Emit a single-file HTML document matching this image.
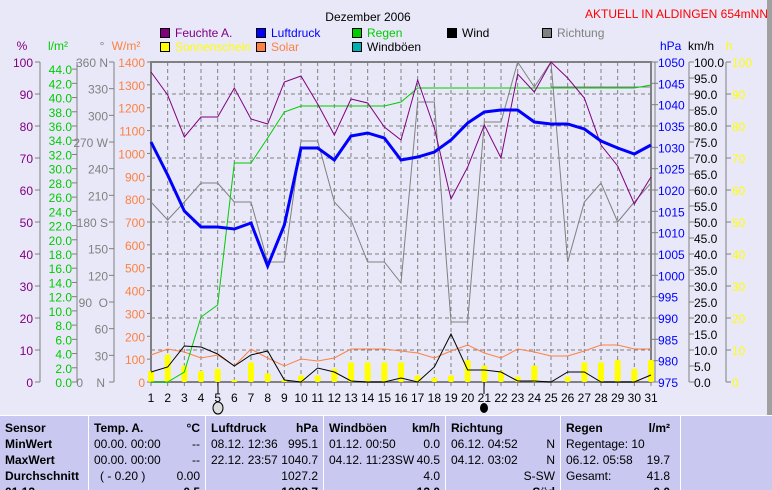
<!DOCTYPE html>
<html><head><meta charset="utf-8">
<style>
html,body{margin:0;padding:0;background:#e8e8f8;}
body{width:772px;height:490px;overflow:hidden;position:relative;font-family:"Liberation Sans",sans-serif;}
svg{position:absolute;left:0;top:0;}
text{font-family:"Liberation Sans",sans-serif;font-size:12px;}
</style></head><body>
<svg id="s" width="772" height="490" xmlns="http://www.w3.org/2000/svg"></svg>
<script>
const S=document.getElementById('s');let h='';
const X=d=>151+(d-1)*500/30;
function T(x,y,t,c,a,w,sz){h+=`<text x="${x}" y="${y}" fill="${c}" text-anchor="${a||'start'}" font-weight="${w||'normal'}" font-size="${sz||12}">${t}</text>`;}
function L(x1,y1,x2,y2,c,w,da){h+=`<line x1="${x1}" y1="${y1}" x2="${x2}" y2="${y2}" stroke="${c}" stroke-width="${w||1}" ${da?`stroke-dasharray="${da}"`:''}/>`;}
T(368,21,'Dezember 2006','#000','middle','normal',15);
T(768,18,'AKTUELL IN ALDINGEN 654mNN','#f00','end');
const lg=[[160,37,'#800080','Feuchte A.','#800080'],[256,37,'#0000ff','Luftdruck','#0000ff'],[352,37,'#00cc00','Regen','#00cc00'],[447,37,'#000','Wind','#000'],[542,37,'#808080','Richtung','#808080'],
[160,51,'#ffff00','Sonnenschein','#ffff00'],[256,51,'#ff8040','Solar','#ff8040'],[352,51,'#00b0b0','Windböen','#000']];
lg.forEach(g=>{h+=`<rect x="${g[0]}.5" y="${g[1]-9}.5" width="9" height="9" fill="${g[2]}" stroke="#000"/>`;T(g[0]+15,g[1],g[3],g[4]);});
for(let d=1;d<=31;d++){L(X(d),62,X(d),382,'#808080',1,'4,3');}
for(let i=1;i<10;i++){L(151,62+i*32,651,62+i*32,'#808080',1,'4,3');}
h+=`<rect x="151" y="62" width="500" height="320" fill="none" stroke="#808080" stroke-width="2"/>`;
T(22,50,'%','#800080','middle');T(58,50,'l/m²','#00cc00','middle');T(102,50,'°','#808080','middle');T(126,50,'W/m²','#ff8040','middle');
L(40,62,40,382,'#808080');for(let i=0;i<=10;i++){let y=382-i*32;L(35,y,40,y,'#808080');T(33,y+5,i*10,'#800080','end');}
L(77,62,77,382,'#808080');for(let i=0;i<=22;i++){let y=382-i*2*320/45;L(72,y,77,y,'#808080');T(72,y+5,(i*2).toFixed(1),'#00cc00','end');}
L(114,62,114,382,'#808080');const dl=['0 &#160;&#160;&#160;N','30','60','90 &#160;O','120','150','180 S','210','240','270 W','300','330','360 N'];
for(let i=0;i<=12;i++){let y=382-i*320/12;L(109,y,114,y,'#808080');T(i==0?105:108,y+5,dl[i],'#808080','end');}
for(let i=0;i<=14;i++){let y=382-i*320/14;L(147,y,151,y,'#808080');T(145,y+5,i*100,'#ff8040','end');}
T(660,50,'hPa','#0000ff','start');T(688,50,'km/h','#000','start');T(726,50,'h','#ffff00','start');
L(655,62,655,382,'#808080');for(let i=0;i<=15;i++){let y=382-i*320/15;L(651,y,658,y,'#808080');T(658,y+5,975+i*5,'#0000ff');}
L(689,62,689,382,'#808080');for(let i=0;i<=20;i++){let y=382-i*16;L(689,y,694,y,'#808080');T(694,y+5,(i*5).toFixed(1),'#000');}
L(726,62,726,382,'#808080');for(let i=0;i<=10;i++){let y=382-i*32;L(726,y,731,y,'#808080');T(732,y+5,i*10,'#ffff00');}
for(let d=1;d<=31;d++){L(X(d),382,X(d),386,'#808080');T(X(d),402,d,'#000','middle');}
L(218,382,218,394,'#000');L(484,382,484,394,'#000');
h+=`<ellipse cx="218" cy="408" rx="5" ry="6" fill="#ddd" stroke="#000"/><ellipse cx="484" cy="408" rx="4" ry="5" fill="#000"/>`;
const sun=[10,25,15,10,12,2,18,8,2,6,6,12,18,18,18,18,6,4,6,20,15,10,5,15,0,5,18,18,20,12,20];
sun.forEach((v,i)=>{if(v>0){let x=X(i+1)-3,hh=v*1.1;h+=`<rect x="${x}" y="${382-hh}" width="6" height="${hh}" rx="2" fill="#ffff00"/>`;}});
function P(ys,c,w){h+=`<polyline fill="none" stroke="${c}" stroke-width="${w}" points="${ys.map((y,i)=>X(i+1)+','+y).join(' ')}"/>`;}
P([355,349,352,358,355,366,349,358,366,359,361,358,349,349,349,351,353,358,351,345,353,358,349,352,356,356,351,345,345,349,349],'#ff8040',1);
P([202,220,202,183,183,202,202,262,262,141,141,202,220,262,262,283,102,102,322,322,122,122,62,87,62,262,202,183,222,202,183],'#808080',1);
h+=`<polyline fill="none" stroke="#808080" points="551,87 651,87"/>`;
P([382,382,372,317,305,163,163,138,112,106,106,106,106,106,106,102,88,88,88,88,88,88,88,88,88,88,88,88,88,88,85],'#00cc00',1);
P([372,367,346,347,354,366,355,351,380,382,368,372,381,382,382,378,382,367,334,370,370,372,381,381,382,372,372,382,382,382,375],'#000',1);
P([72,95,137,117,117,88,119,124,82,76,104,135,99,103,127,140,80,128,199,167,125,158,74,92,62,78,98,145,166,204,177],'#800080',1);
P([142,175,211,227,227,229,223,266,225,148,148,160,136,133,138,160,157,152,140,123,112,110,110,122,124,124,129,141,148,154,145],'#0000ff',3);
h+=`<rect x="767" y="0" width="5" height="415" fill="#a0a0a0"/>`;
h+=`<rect x="0" y="415" width="772" height="75" fill="#c8c8f0"/>`;
[88,205,323,445,560,680].forEach(x=>{L(x+.5,415,x+.5,490,'#fff',1);});
L(0,415.5,772,415.5,'#fff');
const rows=[432,448,464,480];
['Sensor','MinWert','MaxWert','Durchschnitt'].forEach((t,i)=>T(5,rows[i],t,'#000','start','bold'));
T(94,432,'Temp. A.','#000','start','bold');T(200,432,'°C','#000','end','bold');
T(94,448,'00.00.  00:00','#000');T(200,448,'--','#000','end');
T(94,464,'00.00.  00:00','#000');T(200,464,'--','#000','end');
T(100,480,'( - 0.20 )','#000');T(200,480,'0.00','#000','end');
T(211,432,'Luftdruck','#000','start','bold');T(318,432,'hPa','#000','end','bold');
T(211,448,'08.12.  12:36','#000');T(318,448,'995.1','#000','end');
T(211,464,'22.12.  23:57','#000');T(318,464,'1040.7','#000','end');
T(318,480,'1027.2','#000','end');
T(329,432,'Windböen','#000','start','bold');T(440,432,'km/h','#000','end','bold');
T(329,448,'01.12.  00:50','#000');T(440,448,'0.0','#000','end');
T(329,464,'04.12.  11:23SW','#000');T(440,464,'40.5','#000','end');
T(440,480,'4.0','#000','end');
T(451,432,'Richtung','#000','start','bold');
T(451,448,'06.12.  04:52','#000');T(555,448,'N','#000','end');
T(451,464,'04.12.  03:02','#000');T(555,464,'N','#000','end');
T(555,480,'S-SW','#000','end');
T(566,432,'Regen','#000','start','bold');T(670,432,'l/m²','#000','end','bold');
T(566,448,'Regentage: 10','#000');
T(566,464,'06.12.  05:58','#000');T(670,464,'19.7','#000','end');
T(566,480,'Gesamt:','#000');T(670,480,'41.8','#000','end');
T(5,496,'01.12.','#000','start','bold');T(200,496,'0.5','#000','end','bold');T(318,496,'1028.7','#000','end','bold');
T(440,496,'12.0','#000','end','bold');T(555,496,'Süd','#000','end','bold');T(670,496,'0.0','#000','end','bold');
S.innerHTML=h;
</script>
</body></html>
